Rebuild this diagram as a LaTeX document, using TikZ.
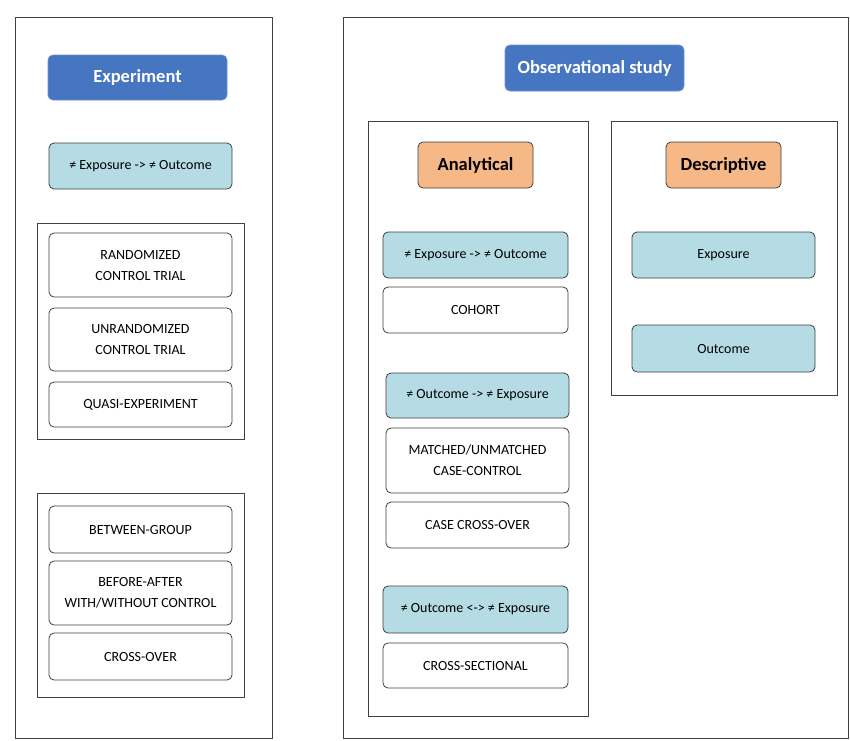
\documentclass[tikz,border=0pt]{standalone}
\usepackage{fontspec}
\setmainfont{Carlito}
\usetikzlibrary{calc}
\definecolor{headblue}{HTML}{4676C2}
\definecolor{keyblue}{HTML}{B5DCE4}
\definecolor{keyorange}{HTML}{F6B886}
\definecolor{boxline}{HTML}{404040}
\tikzstyle{panelline}=[draw=boxline,line width=0.9pt]
\tikzstyle{basebox}=[rounded corners=5pt,draw=boxline,line width=0.8pt,align=center,inner sep=2pt]
\tikzstyle{headbox}=[basebox,fill=headblue,draw=headblue!80!white,text=white,font=\fontsize{18.5}{21}\selectfont\bfseries]
\tikzstyle{groupbox}=[basebox,fill=keyorange,text=black,font=\fontsize{18.5}{21}\selectfont\bfseries]
\tikzstyle{keybox}=[basebox,fill=keyblue,font=\fontsize{14}{17}\selectfont]
\tikzstyle{designbox}=[basebox,fill=white,font=\fontsize{14}{21}\selectfont]
\newcommand{\panel}[2]{
  \draw[panelline] #1 rectangle #2;
}
\begin{document}
\begin{tikzpicture}[x=1pt,y=-1pt]
	\useasboundingbox[fill=white] (0,0) rectangle (850,740);
	% experiment side
	\panel{(15,17)}{(272,738)}
	\panel{(37,223)}{(244,439)}
	\panel{(37,493)}{(244,697)}
	\node[headbox,minimum width=179pt,minimum height=45pt] (exp) at (137.5,77.5) {Experiment};
	\node[keybox,minimum width=183pt,minimum height=46pt] (expkey) at (140.5,166) {≠ Exposure -> ≠ Outcome};
	\node[designbox,minimum width=183pt,minimum height=64pt] (rct) at (140.5,265) {RANDOMIZED\\CONTROL TRIAL};
	\node[designbox,minimum width=183pt,minimum height=63pt] (urct) at (140.5,339.5) {UNRANDOMIZED\\CONTROL TRIAL};
	\node[designbox,minimum width=183pt,minimum height=45pt] (quasi) at (140.5,404.5) {QUASI-EXPERIMENT};
	\node[designbox,minimum width=183pt,minimum height=47pt] (between) at (140.5,529.5) {BETWEEN-GROUP};
	\node[designbox,minimum width=183pt,minimum height=64pt] (beforeafter) at (140.5,593) {BEFORE-AFTER\\WITH/WITHOUT CONTROL};
	\node[designbox,minimum width=183pt,minimum height=47pt] (crossover) at (140.5,656.5) {CROSS-OVER};
	% observational side
	\panel{(343,17)}{(848,738)}
	\panel{(368,121)}{(588,716)}
	\panel{(611,121)}{(837,395)}
	\node[headbox,minimum width=179pt,minimum height=46pt] (obs) at (594.5,68) {Observational study};
	\node[groupbox,minimum width=115pt,minimum height=46pt] (analyt) at (475.5,165) {Analytical};
	\node[groupbox,minimum width=115pt,minimum height=46pt] (descr) at (723.5,165) {Descriptive};
	\node[keybox,minimum width=185pt,minimum height=46pt] (akey1) at (475.5,255) {≠ Exposure -> ≠ Outcome};
	\node[designbox,minimum width=185pt,minimum height=46pt] (cohort) at (475.5,310) {COHORT};
	\node[keybox,minimum width=183pt,minimum height=45pt] (akey2) at (477.5,395.5) {≠ Outcome -> ≠ Exposure};
	\node[designbox,minimum width=183pt,minimum height=65pt] (casecontrol) at (477.5,460.5) {MATCHED/UNMATCHED\\CASE-CONTROL};
	\node[designbox,minimum width=183pt,minimum height=46pt] (casecross) at (477.5,525) {CASE CROSS-OVER};
	\node[keybox,minimum width=185pt,minimum height=47pt] (akey3) at (475.5,609.5) {≠ Outcome <-> ≠ Exposure};
	\node[designbox,minimum width=185pt,minimum height=45pt] (crosssec) at (475.5,665.5) {CROSS-SECTIONAL};
	\node[keybox,minimum width=183pt,minimum height=46pt] (dexpo) at (723.5,255) {Exposure};
	\node[keybox,minimum width=183pt,minimum height=47pt] (doutc) at (723.5,348.5) {Outcome};
\end{tikzpicture}
\end{document}
